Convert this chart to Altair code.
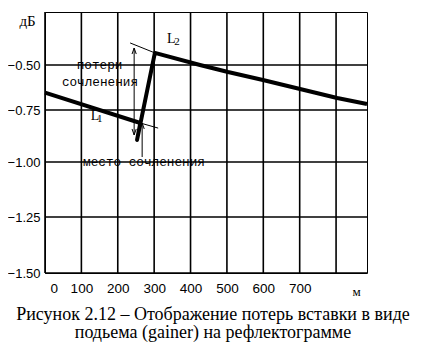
import altair as alt
import pandas as pd

# ---- data ----
# main reflectogram trace (distance in m, level in dB), drawn in order
trace_x = [0, 262, 253, 302, 426, 503, 599, 803, 885]
trace_y = [-0.653, -0.8125, -0.894, -0.443, -0.5, -0.539, -0.583, -0.683, -0.717]

# thin helper lines: tangent of L2, tangent of L1, loss arrow, junction pointer
helper_names = ["tan2", "tan2", "tan1", "tan1", "loss", "loss", "ptr", "ptr"]
helper_x = [234, 302, 262, 311, 245, 245, 267, 267]
helper_y = [-0.396, -0.443, -0.8125, -0.837, -0.42, -0.87, -0.976, -0.8125]

# arrow heads
head_up_x = [245, 267]
head_up_y = [-0.42, -0.8125]
head_dn_x = [245]
head_dn_y = [-0.87]

# annotation texts (monospace)
note_text = ["потери", "сочленения", "место сочленения"]
note_x = [150, 151, 272]
note_y = [-0.5, -0.594, -1.0]

# curve labels L1, L2 (letter + subscript)
lab_text = ["L", "L"]
lab_x = [126, 335]
lab_y = [-0.798, -0.394]
sub_text = ["1", "2"]
sub_x = [143, 355]
sub_y = [-0.810, -0.406]

x_ticks = [0, 100, 200, 300, 400, 500, 600, 700, 800]
y_ticks = [-1.5, -1.25, -1.0, -0.75, -0.5]
y_domain = [-1.5, -1.25, -1.0, -0.75, -0.5, -0.25]

caption = ["Рисунок 2.12 – Отображение потерь вставки в виде",
           "подьема (gainer) на рефлектограмме"]

W, H = 322, 261
xscale = alt.Scale(domain=[0, 885], nice=False, zero=False)
yscale = alt.Scale(domain=y_domain, range=[261, 205, 150, 98, 53, 0], nice=False, zero=False)

trace = pd.DataFrame({"x": trace_x, "y": trace_y, "o": list(range(len(trace_x)))})
helpers = pd.DataFrame({"g": helper_names, "x": helper_x, "y": helper_y,
                        "o": list(range(len(helper_x)))})
up = pd.DataFrame({"x": head_up_x, "y": head_up_y})
dn = pd.DataFrame({"x": head_dn_x, "y": head_dn_y})
notes = pd.DataFrame({"t": note_text, "x": note_x, "y": note_y})
labs = pd.DataFrame({"t": lab_text, "x": lab_x, "y": lab_y})
subs = pd.DataFrame({"t": sub_text, "x": sub_x, "y": sub_y})
xgrid = pd.DataFrame({"x": x_ticks})
ygrid = pd.DataFrame({"y": y_ticks})

ax_style = dict(grid=False, domain=False, ticks=False)

X = alt.X("x:Q", scale=xscale,
          axis=alt.Axis(values=x_ticks, **ax_style,
                        labelExpr="datum.value > 700 ? '' : datum.label",
                        labelFont="Liberation Sans", labelFontSize=13.5, labelColor="black",
                        labelPadding=8, labelOverlap=False,
                        labelFlush=True, labelFlushOffset=-5,
                        title="м", titleFont="Liberation Serif", titleFontSize=13,
                        titleFontWeight="normal", titleColor="black",
                        titleX=311, titleY=22, titleAlign="center",
                        titleBaseline="alphabetic", titleAnchor="start"))
Y = alt.Y("y:Q", scale=yscale,
          axis=alt.Axis(values=y_ticks, **ax_style,
                        format=".2f",
                        labelFont="Liberation Sans", labelFontSize=13, labelColor="black",
                        labelPadding=5,
                        title="дБ", titleFont="Liberation Serif", titleFontSize=15,
                        titleFontWeight="normal", titleColor="black",
                        titleAngle=0, titleX=-18, titleY=13, titleAlign="center",
                        titleBaseline="alphabetic", titleAnchor="start"))
Xp = alt.X("x:Q", scale=xscale)
Yp = alt.Y("y:Q", scale=yscale)

xgrid_layer = alt.Chart(xgrid).mark_rule(color="black", strokeWidth=1.6, opacity=1).encode(
    x=Xp, y=alt.value(0), y2=alt.value(H))
ygrid_layer = alt.Chart(ygrid).mark_rule(color="black", strokeWidth=1.6, opacity=1).encode(
    y=Yp, x=alt.value(0), x2=alt.value(W))

trace_layer = alt.Chart(trace).mark_line(stroke="black", strokeWidth=4,
                                         strokeJoin="round").encode(x=X, y=Y, order="o:Q")

help_layer = alt.Chart(helpers).mark_line(stroke="black", strokeWidth=1).encode(
    x=Xp, y=Yp, detail="g:N", order="o:Q")

up_layer = alt.Chart(up).mark_point(shape="M-0.7,2L0,0L0.7,2", size=36, filled=False,
                                    stroke="black", strokeWidth=1, opacity=1).encode(x=Xp, y=Yp)
dn_layer = alt.Chart(dn).mark_point(shape="M-0.7,-2L0,0L0.7,-2", size=36, filled=False,
                                    stroke="black", strokeWidth=1, opacity=1).encode(x=Xp, y=Yp)

note_layer = alt.Chart(notes).mark_text(font="Liberation Mono", fontSize=12.7, color="black",
                                        align="center", baseline="middle").encode(
    x=Xp, y=Yp, text="t:N")
lab_layer = alt.Chart(labs).mark_text(font="Liberation Serif", fontSize=14, color="black",
                                      align="left", baseline="alphabetic").encode(
    x=Xp, y=Yp, text="t:N")
sub_layer = alt.Chart(subs).mark_text(font="Liberation Serif", fontSize=11, color="black",
                                      align="left", baseline="alphabetic").encode(
    x=Xp, y=Yp, text="t:N")

chart = alt.layer(
    xgrid_layer, ygrid_layer, trace_layer, note_layer, lab_layer, sub_layer,
    help_layer, up_layer, dn_layer
).properties(
    width=W, height=H,
    autosize=alt.AutoSizeParams(type="none"),
    padding={"left": 37, "top": 4, "right": 46, "bottom": 79},
    title=alt.TitleParams(text=caption, orient="bottom", anchor="middle",
                          font="Liberation Serif", fontSize=18, fontWeight="normal",
                          color="black", offset=8, dx=7, lineHeight=18),
).configure_view(stroke="black", strokeWidth=1)

chart.save("out.html", embed_options={"renderer": "svg", "actions": False})
